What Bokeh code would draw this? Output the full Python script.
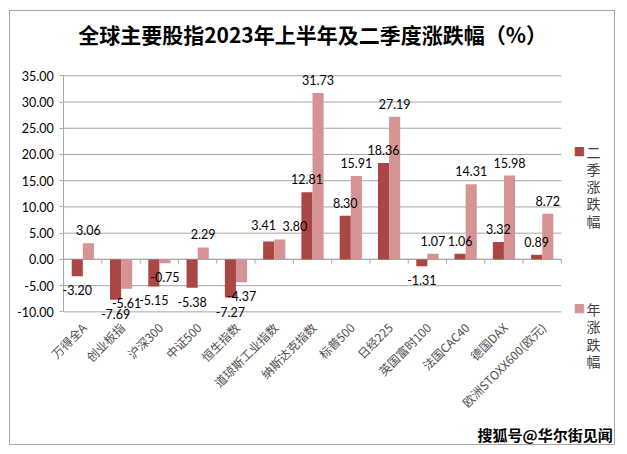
import math
from bokeh.plotting import figure
from bokeh.models import (Range1d, ColumnDataSource, Label, LabelSet,
                          FixedTicker, NumeralTickFormatter)
from bokeh.transform import dodge
from bokeh.core.properties import value
from bokeh.embed import file_html
from bokeh.resources import INLINE

# ---------------- data ----------------
categories = ["万得全A", "创业板指", "沪深300", "中证500", "恒生指数", "道琼斯工业指数",
              "纳斯达克指数", "标普500", "日经225", "英国富时100", "法国CAC40", "德国DAX",
              "欧洲STOXX600(欧元)"]
q2_change = [-3.20, -7.69, -5.15, -5.38, -7.27, 3.41, 12.81, 8.30, 18.36, -1.31, 1.06, 3.32, 0.89]
h1_change = [3.06, -5.61, -0.75, 2.29, -4.37, 3.80, 31.73, 15.91, 27.19, 1.07, 14.31, 15.98, 8.72]
series_names = ["二季涨跌幅", "年涨跌幅"]
y_ticks = [-10, -5, 0, 5, 10, 15, 20, 25, 30, 35]
title_text = "全球主要股指2023年上半年及二季度涨跌幅（%）"
watermark = "搜狐号@华尔街见闻"

# ---------------- style / layout ----------------
DARK = "#AA4644"
LIGHT = "#D59493"
GRID = "#A6A6A6"
NUM_FONT = "Lato"
CJK_FONT = "Noto Sans CJK SC"
BAR_W = 0.29
HALF = 0.145
# the frame covers the whole bordered chart area; the y axis sits at x = 0 inside it
Y_LO, Y_HI = -35.66, 47.25
X_LO, X_HI = -1.389, 14.44
# manual label nudges (pixels, y up) for crowded labels: (dx, dy)
nudges_q2 = {"道琼斯工业指数": (-5, 4)}
nudges_h1 = {"道琼斯工业指数": (15, 0)}

n = len(categories)
centers = [i + 0.5 for i in range(n)]


def offsets(vals, nudges):
    xo, yo = [], []
    for c, v in zip(categories, vals):
        dx, dy = nudges.get(c, (0, 0))
        xo.append(dx)
        yo.append((13 if v >= 0 else -14) + dy)
    return xo, yo


q2_xo, q2_yo = offsets(q2_change, nudges_q2)
h1_xo, h1_yo = offsets(h1_change, nudges_h1)

src = ColumnDataSource(dict(
    xc=centers, cat=categories,
    base=[y_ticks[0]] * n,
    q2=q2_change, h1=h1_change,
    q2_txt=["%.2f" % v for v in q2_change],
    h1_txt=["%.2f" % v for v in h1_change],
    q2_xo=q2_xo, q2_yo=q2_yo, h1_xo=h1_xo, h1_yo=h1_yo,
))

p = figure(
    x_range=Range1d(X_LO, X_HI),
    y_range=Range1d(Y_LO, Y_HI),
    width=606, height=435,
    x_axis_location=None,
    output_backend="svg", toolbar_location=None,
    min_border_left=0, min_border_right=0, min_border_top=0, min_border_bottom=0,
    styles={"border": "1px solid #A6A6A6", "margin": "10px 0 0 9px"},
)
p.outline_line_color = None
p.background_fill_color = "white"
p.border_fill_color = "white"
p.xgrid.grid_line_color = None
p.ygrid.grid_line_color = None

# y axis, placed at the left edge of the category area
p.yaxis.fixed_location = 0
p.yaxis.ticker = FixedTicker(ticks=y_ticks)
p.yaxis.bounds = (y_ticks[0], y_ticks[-1])
p.yaxis.formatter = NumeralTickFormatter(format="0.00")
p.yaxis.axis_line_color = GRID
p.yaxis.major_tick_line_color = GRID
p.yaxis.major_tick_out = 4
p.yaxis.major_tick_in = 0
p.yaxis.minor_tick_line_color = None
p.yaxis.major_label_standoff = 6
p.yaxis.major_label_text_font = NUM_FONT
p.yaxis.major_label_text_font_size = "12.5px"
p.yaxis.major_label_text_color = "#000000"

# horizontal gridlines over the category area only
p.segment(x0=[0] * len(y_ticks), y0=y_ticks, x1=[n] * len(y_ticks), y1=y_ticks,
          line_color=GRID, line_width=1)
# zero axis line and category boundary ticks
p.segment(x0=[0], y0=[0], x1=[n], y1=[0], line_color=GRID, line_width=1.2)
bounds = list(range(1, n + 1))
p.segment(x0=bounds, y0=[0] * n, x1=bounds, y1=[-0.8] * n, line_color=GRID, line_width=1)

# bars
p.vbar(x=dodge("xc", -HALF), top="q2", width=BAR_W, source=src,
       fill_color=DARK, line_color=None)
p.vbar(x=dodge("xc", HALF), top="h1", width=BAR_W, source=src,
       fill_color=LIGHT, line_color=None)

# data labels
for key, off in [("q2", -HALF), ("h1", HALF)]:
    p.add_layout(LabelSet(x=dodge("xc", off), y=key, text=key + "_txt",
                          source=src, x_offset=key + "_xo", y_offset=key + "_yo",
                          text_align="center", text_baseline="middle",
                          text_font=value(NUM_FONT), text_font_size="12.5px",
                          text_color="#000000"))

# category labels, rotated 45 degrees, hanging below the -10 line
p.text(x="xc", y="base", text="cat", source=src, angle=math.pi / 4,
       x_offset=1, y_offset=13, text_align="right", text_baseline="middle",
       text_font=value(CJK_FONT), text_font_size="12px", text_color="#505050")

# chart title (above the 35 gridline)
p.add_layout(Label(x=n / 2, y=42.9, text=title_text, text_color="#000000",
                   text_font=CJK_FONT, text_font_size="21px", text_font_style="bold",
                   text_align="center", text_baseline="middle"))

# legend (vertical, right of the plot area)
for name, col, ys, yt in [(series_names[0], DARK, 20.74, 22.4), (series_names[1], LIGHT, -9.23, -7.6)]:
    p.add_layout(Label(x=n + 0.47, y=ys, text="■", text_color=col, text_font="DejaVu Sans",
                       text_font_size="12px", text_align="center", text_baseline="middle"))
    p.add_layout(Label(x=n + 0.84, y=yt, text="\n".join(name), text_color="#404040",
                       text_font=CJK_FONT, text_font_size="14px", text_line_height=0.86,
                       text_align="center", text_baseline="top"))

# watermark (bottom right)
p.add_layout(Label(x=n + 1.34, y=-33.3, text=watermark, text_color="#000000",
                   text_font=CJK_FONT, text_font_size="15px", text_font_style="bold",
                   text_align="right", text_baseline="middle"))

open("out.html", "w").write(file_html(p, INLINE))
